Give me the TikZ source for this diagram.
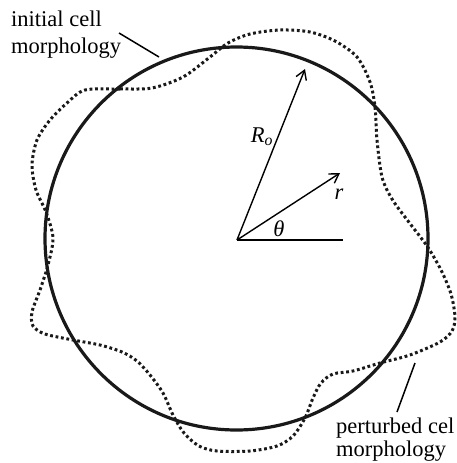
\documentclass[tikz,border=0pt]{standalone}
\usepackage{fontspec}
\setmainfont{Liberation Serif}
\usetikzlibrary{arrows.meta}
\tikzset{
  cellline/.style={line width=3.2pt, draw=black!90},
  perturbed/.style={line width=3pt, draw=black!90, dash pattern=on 2.8pt off 2.7pt, line cap=butt},
  vec/.style={line width=1.4pt, -{Straight Barb[length=9pt,width=11pt,line width=1.4pt]}},
  leader/.style={line width=1.5pt},
  lbl/.style={font=\fontsize{22.5}{27}\selectfont, inner sep=0pt, anchor=base west},
  mlbl/.style={font=\fontsize{22.5}{27}\selectfont\itshape, inner sep=0pt},
}
\begin{document}
\begin{tikzpicture}[x=1pt,y=-1pt]
\useasboundingbox (0,0) rectangle (457,463);
\coordinate (O) at (237,240);
\coordinate (Rtip) at (305,69);
\coordinate (rtip) at (340,173);
\coordinate (thend) at (343,240);
% initial cell
\draw[cellline] (236.5,238.5) circle[radius=191.5];
% perturbed cell
\draw[perturbed] plot[smooth cycle, tension=0.5] coordinates {
(85,90) (120,89) (152,88) (183,77) (210,57) (228,43) (250,34) (280,30)
(310,32) (335,41) (357,57) (370,82) (375,107) (377,140) (382,177) (392,199)
(408,221) (427,246) (441,270) (451,294) (455,317) (452,331) (440,342) (410,355)
(380,363) (353,371) (333,374) (321,383) (313,398) (305,418) (293,436) (277,446)
(250,451) (217,451) (199,446) (184,433) (173,415) (163,393) (150,375) (137,361)
(122,352) (100,345) (73,340) (45,334) (33,326) (32,312) (40,290) (48,265)
(53,238) (46,212) (36,190) (32,165) (37,140) (50,120) (67,103)};
% vectors
\draw[vec] (O) -- (Rtip);
\draw[vec] (O) -- (rtip);
\draw[line width=1.8pt] (O) -- (thend);
\node[mlbl] (Rlab) at (262,137) {R\textsubscript{o}};
\node[mlbl] (rlab) at (339,194) {r};
\node[mlbl] (thlab) at (279,229) {θ};
% labels
\node[lbl] (init1) at (11,27) {initial cell};
\node[lbl] (init2) at (11,53) {morphology};
\coordinate (initA) at (119,33);
\coordinate (initB) at (159,57);
\draw[leader] (initA) -- (initB);
\node[lbl] (pert1) at (336,433) {perturbed cel};
\node[lbl] (pert2) at (336,456) {morphology};
\coordinate (pertA) at (415,363);
\coordinate (pertB) at (397,412);
\draw[leader] (pertA) -- (pertB);
\end{tikzpicture}
\end{document}
